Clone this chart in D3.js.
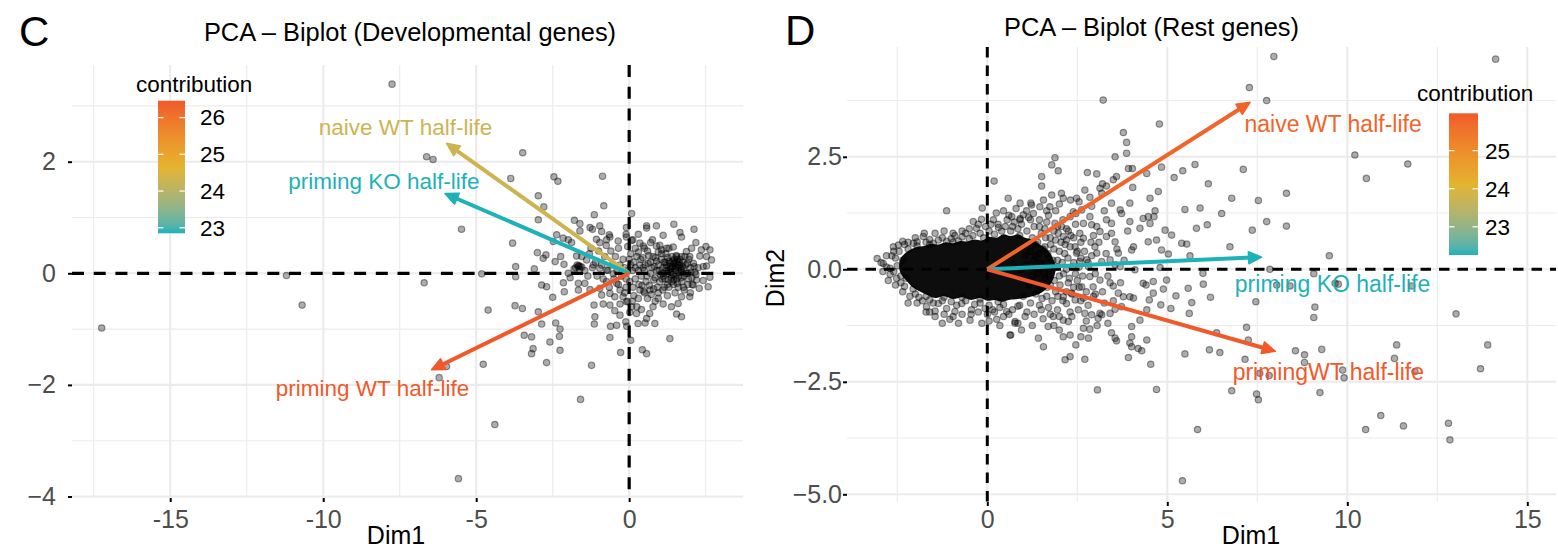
<!DOCTYPE html>
<html>
<head>
<meta charset="utf-8">
<script src="https://cdn.jsdelivr.net/npm/d3@7"></script>
<style>
  html, body { margin: 0; padding: 0; background: #fff; }
  svg { display: block; }
</style>
</head>
<body>
<svg id="fig" width="1558" height="551"></svg>
<script>
// ---------------------------------------------------------------
// Variables (arrows) and their contributions
// ---------------------------------------------------------------
const devVariables = ["naive WT half-life", "priming KO half-life", "priming WT half-life"];
const devLoadingDim1 = [-5.97, -6.02, -6.46];
const devLoadingDim2 = [2.33, 1.43, -1.73];
const devContribution = [24.3, 22.85, 26.46];

const restVariables = ["naive WT half-life", "priming KO half-life", "primingWT half-life"];
const restLoadingDim1 = [7.30, 7.62, 8.0];
const restLoadingDim2 = [3.71, 0.27, -1.82];
const restContribution = [25.8, 22.26, 25.98];

// Axis ticks and their labels
const devXTicks = [-15, -10, -5, 0];
const devXTickLabels = ["-15", "-10", "-5", "0"];
const devXMinor = [-17.5, -12.5, -7.5, -2.5, 2.5];
const devYTicks = [-4, -2, 0, 2];
const devYTickLabels = ["\u22124", "\u22122", "0", "2"];
const devYMinor = [-3, -1, 1, 3];
const devLegendTicks = [23, 24, 25, 26];

const restXTicks = [0, 5, 10, 15];
const restXTickLabels = ["0", "5", "10", "15"];
const restXMinor = [-2.5, 2.5, 7.5, 12.5];
const restYTicks = [-5, -2.5, 0, 2.5];
const restYTickLabels = ["\u22125.0", "\u22122.5", "0.0", "2.5"];
const restYMinor = [-3.75, -1.25, 1.25, 3.75];
const restLegendTicks = [23, 24, 25];

// ---------------------------------------------------------------
// Individuals (genes) on Dim1 / Dim2 - developmental genes
// ---------------------------------------------------------------
const devGenes = [
  [-17.24,-0.98],[-11.2,-0.04],[-10.69,-0.57],[-7.75,3.39],[-6.62,2.09],[-6.41,2.04],[-5.48,0.79],
  [-6.7,-0.17],[-4.82,-0.01],[-4.61,-0.66],[-4.77,-1.63],[-5.97,-1.67],[-6.21,-1.87],[-4.39,-2.71],
  [-5.58,-3.68],[-3.48,2.16],
  [-3.87,1.70],[-2.46,1.73],[-2.33,1.65],[-2.97,1.39],[-2.79,1.19],[-2.97,0.96],[-3.81,0.54],
  [-3.71,0.12],[-3.71,-0.06],[-3.0,0.37],[-2.81,0.27],[-2.86,-0.21],[-2.7,-0.24],
  [-0.87,1.74],[-0.83,1.21],[0.08,1.07],[-1.14,1.05],[-1.79,0.95],[-1.61,0.89],[-1.28,0.82],
  [-1.20,0.79],[-0.96,0.85],[-1.61,0.76],[-0.90,0.75],[-0.65,0.69],[-0.09,0.82],[0.57,0.85],
  [0.57,0.81],[0.89,0.85],[1.46,0.88],[1.66,0.73],[1.71,0.65],[2.12,0.79],[1.11,0.68],
  [-2.37,0.69],[-2.16,0.63],[-1.99,0.60],[-1.88,0.55],[-2.48,0.57],[-1.07,0.61],[-0.96,0.55],
  [-0.74,0.60],[-0.63,0.65],[-0.36,0.58],[-0.09,0.65],[0.08,0.59],[0.35,0.54],[0.46,0.49],
  [0.76,0.60],[0.89,0.49],[1.06,0.42],[1.22,0.45],[1.44,0.47],[1.71,0.30],[1.87,0.39],
  [2.04,0.45],[2.18,0.55],[2.36,0.42],[2.51,0.48],[2.64,0.42],[2.69,0.24],[2.53,0.30],
  [2.31,0.31],[2.42,0.12],[2.53,0.13],[2.64,-0.07],[2.42,-0.13],[2.58,-0.24],[2.29,-0.27],
  [2.09,-0.21],[1.98,-0.42],[1.71,-0.42],[1.60,-0.54],[1.71,-0.78],[1.55,-0.73],[1.38,-0.60],
  [1.11,-0.55],[0.78,-0.60],[0.67,-0.72],[0.57,-0.81],[0.84,-0.90],[0.52,-0.89],[0.29,-0.90],
  [0.24,-0.72],[0.08,-0.60],[-0.09,-0.51],[-0.11,-0.87],[-0.41,-0.93],[-0.61,-0.95],[-0.30,-0.75],
  [-0.47,-0.67],[-0.63,-0.57],[-0.85,-0.55],[-1.15,-0.57],[-1.12,-0.78],[-1.14,-0.91],[-0.63,-1.15],
  [-0.28,-1.42],[0.43,-1.37],[0.57,-1.44],[1.33,-1.17],[-1.23,-1.65],[-1.59,-2.26],[-2.59,-1.23],
  [-2.26,-1.38],[-3.14,-1.35],[-3.19,-1.44],[-2.70,-1.60],[-3.43,-1.11],[-3.19,-1.14],[-2.97,-0.69],
  [-2.86,-0.91],[-2.40,-0.89],[-2.26,-1.00],[-2.28,-1.13],[-3.73,-0.58],[-3.49,-0.63],[-2.50,-0.43],
  [-2.12,-0.33],[-2.15,-0.17],[-1.93,-0.08],[-1.66,-0.18],[-1.45,-0.18],[-1.99,0.00],[-1.66,0.12],
  [-1.55,0.11],[-3.10,0.08],[-2.72,0.33],[-2.24,0.30],[-2.13,0.16],[-2.42,0.21],[-1.72,0.31],
  [-1.39,0.24],[-1.17,0.15],[-0.96,0.09],[-0.74,0.06],[-0.52,-0.01],[-0.74,-0.15],[-0.96,-0.27],
  [-0.41,-0.18],[-0.30,-0.30],[-0.20,-0.42],[-0.47,-0.42],[-0.63,-0.36],[-0.90,-0.39],[-1.28,-0.29],
  [-1.66,-0.30],
  [0.05,0.35],[0.15,0.2],[0.1,0.05],[0.2,-0.1],[0.12,-0.25],[0.3,0.38],[0.35,0.15],[0.4,-0.05],
  [0.32,-0.2],[0.45,0.28],[0.5,0.05],[0.55,-0.15],[0.48,-0.32],[0.6,0.4],[0.62,0.18],[0.7,0.0],
  [0.66,-0.22],[0.72,-0.38],[0.78,0.3],[0.82,0.12],[0.85,-0.08],[0.8,-0.28],[0.9,0.22],[0.95,0.38],
  [0.98,0.05],[1.0,-0.15],[0.95,-0.35],[1.05,0.25],[1.1,0.1],[1.12,-0.05],[1.15,-0.25],[1.2,0.35],
  [1.22,0.15],[1.25,0.0],[1.28,-0.12],[1.3,0.22],[1.35,0.08],[1.38,-0.08],[1.4,0.3],[1.42,0.12],
  [1.45,-0.02],[1.5,0.18],[1.52,0.05],[1.55,-0.1],[1.58,0.25],[1.6,0.1],[1.62,-0.05],[1.65,0.15],
  [1.7,0.02],[1.72,-0.15],[1.75,0.2],[1.78,0.08],[1.8,-0.05],[1.85,0.15],[1.9,0.0],[1.92,-0.2],
  [1.95,0.25],[2.0,0.1],[2.05,-0.08],[2.1,0.18],[2.15,0.02],[2.2,-0.12],[2.25,0.1],[1.18,0.2],
  [1.33,0.18],[1.48,0.25],[1.63,0.2],[1.08,-0.1],[1.25,-0.2],[1.45,-0.2],[1.6,-0.25],[1.35,0.02],
  [1.52,0.12],[1.68,0.08],[1.4,-0.15],[1.55,0.3],[0.6,-0.45],[0.85,-0.5],[0.3,-0.45],[0.2,0.45],
  [0.5,0.45],[0.15,-0.4],[0.02,-0.15],[0.05,0.15],[-0.05,0.05],[-0.1,-0.1],[-0.15,0.1],[-0.2,0.25],
  [-0.25,-0.05],[-0.3,0.15],[-0.35,-0.2],[-0.4,0.05],[-0.45,0.3],[-0.5,-0.1],[-0.55,0.15],[-0.6,0.4],
  [-0.65,-0.25],[-0.7,0.05],[-0.8,0.3],[-0.85,-0.1],[-0.9,0.15],[-1.0,0.4],[-1.05,-0.05],[-1.1,0.2],
  [-1.2,0.1],[-1.3,0.35],[-1.35,-0.05],[-1.45,0.05],[-1.55,0.3],[-1.6,0.12],[-1.7,0.15],[-1.75,0.1],
  [-1.8,0.08],[-1.62,0.07],[-1.65,0.14],[-1.25,0.45],[-0.75,0.5],[-0.35,0.45],[-0.05,0.48],[0.25,-0.6],
  [-0.15,-0.35],[-0.05,-0.5],[0.4,-0.65],[-0.3,-0.55],[1.0,0.5],[1.3,0.45],[0.7,0.55],[0.95,-0.45],
  [1.25,-0.4],[1.5,-0.35],[1.8,-0.3],[2.0,-0.35],[0.12,0.6],[-0.1,0.7],[0.3,0.7],[0.02,-0.7],
  [-0.08,-0.95],[0.05,-1.2],
  [0.3,0.05],[0.38,0.25],[0.42,-0.22],[0.52,0.15],[0.58,-0.05],[0.64,0.32],[0.68,-0.3],[0.74,0.1],
  [0.8,-0.12],[0.86,0.28],[0.92,-0.25],[0.96,0.15],[1.02,-0.02],[1.06,0.35],[1.1,-0.3],[1.14,0.2],
  [1.18,-0.1],[1.22,0.05],[1.26,0.28],[1.3,-0.25],[1.34,0.12],[1.38,-0.02],[1.42,0.22],[1.46,-0.12],
  [1.5,0.08],[1.54,0.32],[1.58,-0.18],[1.62,0.02],[1.66,0.25],[1.7,-0.08],[1.74,0.12],[1.78,-0.25],
  [1.82,0.3],[1.86,0.0],[1.9,0.18],[1.94,-0.1],[1.98,0.3],[2.02,0.02],[2.06,-0.2],[2.12,0.12],
  [2.18,-0.02],[1.2,0.1],[1.4,0.1],[1.6,0.15],[1.3,0.05],[1.5,-0.05],[1.7,0.05],[1.1,0.0],
  [1.45,0.18],[1.55,0.2],[0.9,0.05],[0.7,0.2],[0.5,-0.35],[0.25,0.3],[0.0,0.25],[-0.1,-0.25],
  [0.1,-0.5],[0.35,-0.3],[0.45,0.1],[0.2,0.1]
];

// ---------------------------------------------------------------
// Individuals - rest genes. The saturated centre of the cloud is
// given as an outline; the scattered genes are listed point by point.
// ---------------------------------------------------------------
const restCoreOutline = [
  [-2.45,0.05],[-2.4,0.25],[-2.25,0.38],[-2.1,0.45],[-1.95,0.5],[-1.75,0.52],[-1.55,0.57],
  [-1.35,0.55],[-1.15,0.6],[-0.95,0.58],[-0.75,0.63],[-0.55,0.62],[-0.35,0.66],[-0.15,0.64],
  [0.05,0.72],[0.25,0.7],[0.45,0.78],[0.65,0.74],[0.85,0.78],[1.05,0.7],[1.25,0.66],[1.45,0.55],
  [1.65,0.45],[1.8,0.28],[1.9,0.05],[1.85,-0.18],[1.7,-0.38],[1.5,-0.52],[1.25,-0.6],[1.05,-0.64],
  [0.85,-0.66],[0.6,-0.68],[0.4,-0.72],[0.2,-0.68],[0.0,-0.7],[-0.2,-0.64],[-0.45,-0.68],
  [-0.7,-0.62],[-0.95,-0.66],[-1.2,-0.6],[-1.45,-0.64],[-1.7,-0.56],[-1.9,-0.48],[-2.1,-0.38],
  [-2.25,-0.25],[-2.4,-0.1]
];

const restGenes = [
  // left tail
  [-3.06,0.24],[-2.95,0.15],[-2.89,0.13],[-2.8,0.3],[-2.70,0.02],[-2.70,-0.11],[-2.61,0.50],
  [-2.52,-0.20],[-2.47,0.54],[-2.6,-0.05],[-2.55,0.25],[-2.45,0.4],[-2.4,-0.3],[-2.3,0.55],
  [-2.5,0.08],[-2.65,0.3],[-2.3,-0.38],[-2.35,0.2],[-2.4,-0.15],[-2.25,-0.2],[-2.2,0.45],
  // upper edge
  [-2.2,0.6],[-2.05,0.58],[-1.95,0.61],[-1.78,0.73],[-1.7,0.6],[-1.6,0.66],[-1.5,0.58],[-1.36,0.65],
  [-1.25,0.7],[-1.13,0.62],[-1.0,0.68],[-0.9,0.75],[-0.8,0.63],[-0.7,0.72],[-0.6,0.8],[-0.5,0.68],
  [-0.4,0.75],[-0.30,0.91],[-0.2,0.8],[-0.1,0.7],[-0.16,1.11],[-0.39,1.06],[-0.14,1.36],[-1.13,1.30],
  [0.05,0.85],[0.17,1.10],[0.31,0.93],[0.19,1.96],[-1.95,0.52],[-1.6,0.55],[-0.95,0.6],
  // lower edge
  [-2.06,-0.44],[-2.0,-0.55],[-1.9,-0.62],[-1.8,-0.7],[-1.69,-0.83],[-1.6,-0.68],[-1.5,-0.75],
  [-1.45,-0.93],[-1.36,-0.76],[-1.25,-0.7],[-1.13,-0.87],[-1.04,-1.11],[-1.0,-0.72],[-0.90,-0.94],
  [-0.85,-0.8],[-0.71,-0.76],[-0.6,-0.7],[-0.48,-1.13],[-0.44,-0.90],[-0.35,-0.78],[-0.2,-0.75],
  [-0.06,-0.87],[0.26,-1.11],[0.65,-1.46],[0.77,-1.16],[-1.7,-0.6],[-1.2,-0.62],[-0.7,-0.62],
  [-0.2,-0.66],[0.3,-0.72],
  // outer fringe of the centre
  [1.2,1.1],[0.95,1.0],[0.7,0.95],[0.55,1.1],[0.25,1.25],[0.1,1.0],[-0.05,0.95],[-0.25,1.0],
  [-0.5,0.9],[-0.7,0.85],[-0.95,0.8],[-1.2,0.85],[-1.45,0.8],[-1.75,0.8],[-2.0,0.7],[-2.35,0.62],
  [-2.6,0.4],[-2.8,0.05],[-2.9,-0.05],[-2.75,-0.25],[-2.55,-0.35],[-2.35,-0.5],[-2.15,-0.6],
  [-1.95,-0.75],[-1.7,-0.95],[-1.45,-1.05],[-1.2,-1.0],[-0.95,-1.05],[-0.7,-1.0],[-0.45,-1.0],
  [-0.25,-0.95],[0.0,-1.0],[0.2,-0.95],[0.45,-1.05],[0.6,-1.0],[-1.25,-1.2],[-0.8,-1.2],
  [0.05,-1.15],[-2.2,-0.75],[-1.6,-0.95],[-0.15,-1.2],[0.35,-1.25],
  // right of the centre
  [0.5,0.95],[0.6,1.2],[0.75,1.05],[0.85,0.9],[0.45,1.3],[0.8,1.35],[1.15,1.15],[1.3,0.95],
  [1.45,1.1],[1.7,1.2],[1.9,1.3],[2.1,1.1],[0.9,0.75],[1.1,0.85],[1.25,0.7],[1.5,0.8],[1.75,0.7],
  [1.6,0.9],[1.85,0.85],[1.2,0.4],[1.35,0.55],[1.45,0.35],[1.6,0.5],[1.7,0.25],[1.85,0.45],
  [1.95,0.2],[2.05,0.6],[2.15,0.35],[1.3,0.2],[1.55,0.1],[1.8,0.0],[2.2,0.0],[2.4,0.15],[1.4,-0.1],
  [1.6,-0.2],[2.0,-0.15],[2.45,-0.1],[1.25,-0.15],[1.5,-0.4],[1.75,-0.35],[2.25,-0.3],[1.15,-0.35],
  [1.35,-0.55],[1.65,-0.6],[1.9,-0.5],[2.35,-0.55],[1.0,-0.6],[1.2,-0.75],[1.45,-0.8],[1.7,-0.85],
  [1.95,-0.9],[0.9,-0.8],[1.1,-0.95],[2.1,-0.7],[2.55,-0.4],[2.6,0.25],[2.5,0.4],[0.7,-0.9],
  [0.85,-0.82],[0.45,-0.78],[0.54,-0.94],[0.35,-0.85],[0.15,-0.9],[0.05,-0.8],[1.05,0.3],
  [0.95,0.0],[1.1,0.1],[0.3,1.0],[0.2,0.78],[0.4,0.85],[0.65,0.85],
  [1.35,0.3],[1.4,0.6],[1.42,-0.45],[1.48,0.15],[1.52,-0.65],[1.55,0.45],[1.58,-0.05],[1.62,0.7],
  [1.66,-0.4],[1.68,0.35],[1.72,-0.15],[1.76,0.55],[1.8,-0.7],[1.82,0.2],[1.86,-0.25],[1.9,0.65],
  [1.92,0.05],[1.96,-0.6],[2.0,0.4],[2.02,-0.35],[2.08,0.15],[2.12,-0.1],[2.16,0.55],[2.2,-0.5],
  [2.24,0.25],[2.28,-0.2],[2.32,0.75],[2.36,0.05],[2.4,-0.4],[2.44,0.5],[2.5,-0.25],[2.55,0.05],
  [2.6,0.6],[2.65,-0.15],[2.7,0.4],[2.75,-0.5],[2.8,0.15],[2.88,0.6],[2.95,-0.6],[1.45,0.95],
  [1.65,1.05],[1.95,0.95],[2.25,0.85],[2.45,1.0],[1.5,-0.9],[1.75,-1.0],[2.0,-1.05],[2.3,-0.95],
  [1.3,-1.0],[1.05,-1.05],[0.85,-1.2],
  [2.9,0.3],[3.0,-0.1],[3.1,0.6],[3.2,-0.5],[3.3,0.35],[3.35,-0.15],[3.45,0.8],[3.5,-0.7],
  [3.6,0.45],[3.7,-0.3],[3.8,0.2],[3.9,0.85],[2.2,0.9],[2.4,0.7],[2.6,-0.7],[2.8,-0.8],[2.95,0.75],
  [3.25,1.3],[2.55,1.5],[2.0,1.45],[1.65,1.3],[2.9,1.4],[3.0,-0.55],[3.25,-0.75],[2.35,-1.05],
  [1.85,-1.25],[1.55,-1.1],[2.75,-1.15],[3.05,-1.25],[3.35,-1.2],[1.25,-1.25],[0.95,-1.35],
  [2.0,-1.35],[2.6,-1.5],
  // spread towards positive Dim1
  [7.28,4.04],[7.76,3.75],[3.22,3.76],[4.78,3.23],[3.78,3.04],[3.87,2.82],[3.87,2.58],[3.55,2.50],
  [1.88,2.48],[1.79,2.32],[1.97,2.19],[3.92,2.24],[4.03,2.24],[2.78,2.15],[3.04,2.12],[4.43,2.13],
  [4.84,2.27],[5.43,2.19],[5.77,2.33],[5.19,2.04],[7.11,2.22],[6.14,1.90],[1.51,2.06],[1.51,1.85],
  [3.50,1.99],[3.31,1.85],[3.59,2.06],[4.04,1.82],[3.20,1.90],[4.75,1.73],[4.52,1.58],[6.79,1.58],
  [7.53,1.53],[5.91,1.36],[5.49,1.33],[6.51,1.24],[4.66,1.30],[4.63,1.17],[4.33,1.13],[3.96,1.06],
  [4.24,0.91],[4.94,0.87],[5.12,0.76],[4.70,0.65],[4.47,0.61],[5.40,0.58],[5.54,0.56],[5.81,0.91],
  [6.11,0.99],[7.36,0.87],[7.76,1.06],[6.74,0.50],[5.03,0.34],[5.63,0.30],[4.01,0.43],[4.06,0.50],
  [3.64,0.36],[3.55,0.61],[3.31,0.73],[3.13,0.84],[2.90,0.99],[3.04,0.95],[2.67,1.02],[2.46,1.24],
  [2.62,1.32],[2.85,1.17],[2.31,1.54],[2.48,1.58],[2.06,1.69],[2.11,1.58],[2.71,1.76],[2.85,1.60],
  [3.13,1.80],[3.18,1.69],[3.69,1.32],[3.73,1.24],[3.45,1.47],[3.96,1.47],[4.47,1.17],[6.00,-0.33],
  [6.20,-0.62],[5.58,-0.42],[5.24,-0.59],[5.10,-0.87],[4.82,-0.79],[5.61,-0.98],[5.68,-0.74],
  [4.50,-0.68],[4.61,-0.53],[4.33,-0.31],[4.41,-0.35],[4.61,-0.27],[4.10,-0.01],[4.80,0.04],
  [4.89,-0.44],[4.24,-1.13],[4.43,-1.57],[4.01,-1.27],[3.96,-1.64],[4.01,-1.72],[4.19,-1.76],
  [4.29,-1.81],[3.92,-1.96],[4.54,-2.11],[4.70,-2.67],[5.49,-1.88],[6.17,-1.79],[6.46,-1.85],
  [7.16,-2.0],[7.20,-1.29],[7.25,-1.57],[7.46,-0.72],[6.79,-2.70],[7.48,-2.77],[7.53,-2.90],
  [3.06,-2.68],[3.45,-1.41],[3.55,-1.53],[3.59,-1.59],[3.18,-1.01],[3.08,-1.09],[2.67,-1.31],
  [2.85,-1.33],[2.81,-1.53],[2.46,-1.68],[2.30,-1.94],[2.16,-2.01],[2.71,-2.00],[2.11,-1.50],
  [2.30,-1.46],[1.69,-1.27],[1.42,-1.53],[1.56,-1.72],[0.63,-1.46],[0.77,-1.20],[1.83,-1.05],
  [2.11,-1.13],[2.25,-1.16],[2.53,-0.90],[2.71,-0.98],[2.90,-1.01],[3.13,-0.98],[3.41,-0.98],
  [3.55,-0.89],[3.64,-0.53],[3.78,-0.61],[3.41,-0.30],[3.50,-0.37],[3.13,-0.24],[2.85,-0.16],
  [2.94,-0.39],[2.62,-0.39],[2.67,-0.64],[2.34,-0.53],[2.44,-0.68],[2.11,-0.61],[2.20,-0.76],
  [3.96,-0.61],[4.06,-0.64],[4.43,-0.90],[4.01,-1.50],[3.73,-0.83],[3.55,0.10],[3.69,0.06],
  [3.18,0.17],[3.41,0.21],[2.99,0.50],[3.04,0.36],[2.76,0.21],[2.81,0.06],[2.48,0.36],[2.57,0.17],
  [2.20,0.65],[2.30,0.50],[1.97,0.80],[2.11,0.73],[1.74,1.39],[1.79,1.65],[1.46,1.39],[1.56,1.54],
  [1.23,1.43],[1.28,1.24],[1.0,1.21],[0.91,1.10],[0.58,1.58],[1.88,1.02],[2.06,0.95],[2.30,1.17],
  [2.39,1.28],[2.57,0.80],[2.67,0.69],[3.31,1.10],[3.45,1.02],[4.52,1.02],[4.84,0.43],[4.98,-0.24],
  [6.37,-1.41],[7.57,-2.31],[7.83,-2.36],[5.99,-0.09],[0.91,1.47],[1.21,1.47],[1.09,1.30],
  [0.91,1.13],[0.68,1.17],
  // far right
  [7.96,4.73],[14.12,4.67],[10.21,2.54],[11.68,2.34],[10.53,2.02],[8.31,1.69],[8.31,0.96],
  [9.50,0.30],[7.85,0.0],[9.07,-0.10],[8.04,-0.35],[8.41,-0.37],[9.66,-0.31],[9.75,-0.33],
  [11.79,-0.37],[9.10,-0.84],[9.07,-1.07],[13.02,-0.99],[8.56,-1.81],[8.81,-1.90],[8.81,-2.07],
  [9.29,-1.78],[9.87,-2.24],[9.91,-2.41],[9.24,-2.74],[11.37,-1.68],[11.31,-1.98],[11.88,-2.27],
  [13.90,-1.68],[13.70,-2.21],[10.93,-3.25],[10.51,-3.56],[11.56,-3.48],[12.81,-3.42],[12.85,-3.79],
  [5.84,-3.56],[5.42,-4.70]
];

// ---------------------------------------------------------------
// Layout
// ---------------------------------------------------------------
const FONT = '"Liberation Sans", Arial, Helvetica, sans-serif';
const gradientColors = ["#1DB2B8", "#E4B42E", "#F2592A"];
const svg = d3.select("#fig");
const defs = svg.append("defs");

const panels = [
  {
    id: "dev",
    letter: "C", letterPos: [19, 46],
    title: "PCA \u2013 Biplot (Developmental genes)", titlePos: [410, 41],
    frame: { left: 72, right: 743, top: 65, bottom: 498 },
    xDomain: [-18.21, 3.72], yDomain: [-4.027, 3.733],
    xTicks: devXTicks, xTickLabels: devXTickLabels, xMinor: devXMinor,
    yTicks: devYTicks, yTickLabels: devYTickLabels, yMinor: devYMinor,
    xPad: 8.2, yPad: 12, dash: "12,9.7", dashWidth: 3.2,
    genes: devGenes, core: null,
    variables: devVariables, dim1: devLoadingDim1, dim2: devLoadingDim2, contrib: devContribution,
    labelOffsets: [[-41, -8], [-61, -5], [-59, 26]], labelSize: 22.5,
    xTitlePos: [396, 544], yTitlePos: null,
    legend: { titleX: 136, titleY: 92, barX: 158, barW: 27, barTop: 100.7, barBottom: 233.3, labelX: 200, ticks: devLegendTicks }
  },
  {
    id: "rest",
    letter: "D", letterPos: [785, 45],
    title: "PCA \u2013 Biplot (Rest genes)", titlePos: [1151.5, 36],
    frame: { left: 847, right: 1556, top: 47, bottom: 502 },
    xDomain: [-3.897, 15.797], yDomain: [-5.171, 4.94],
    xTicks: restXTicks, xTickLabels: restXTickLabels, xMinor: restXMinor,
    yTicks: restYTicks, yTickLabels: restYTickLabels, yMinor: restYMinor,
    xPad: 4.2, yPad: 1, dash: "10.5,8", dashWidth: 3,
    genes: restGenes, core: restCoreOutline,
    variables: restVariables, dim1: restLoadingDim1, dim2: restLoadingDim2, contrib: restContribution,
    labelOffsets: [[83, 30], [71, 35], [53, 29]], labelSize: 23,
    xTitlePos: [1251, 544], yTitlePos: [784, 278],
    legend: { titleX: 1417, titleY: 101, barX: 1449, barW: 29, barTop: 113.3, barBottom: 255, labelX: 1485, ticks: restLegendTicks }
  }
];

function drawPanel(p) {
  const f = p.frame;
  const g = svg.append("g").attr("class", "panel-" + p.id);
  const x = d3.scaleLinear().domain(p.xDomain).range([f.left, f.right]);
  const y = d3.scaleLinear().domain(p.yDomain).range([f.bottom, f.top]);

  // grid
  const grid = g.append("g").attr("stroke", "#ebebeb");
  grid.selectAll("line.xminor").data(p.xMinor).join("line").attr("class", "xminor")
    .attr("x1", d => x(d)).attr("x2", d => x(d)).attr("y1", f.top).attr("y2", f.bottom)
    .attr("stroke-width", 1.1);
  grid.selectAll("line.yminor").data(p.yMinor).join("line").attr("class", "yminor")
    .attr("y1", d => y(d)).attr("y2", d => y(d)).attr("x1", f.left).attr("x2", f.right)
    .attr("stroke-width", 1.1);
  grid.selectAll("line.xmajor").data(p.xTicks).join("line").attr("class", "xmajor")
    .attr("x1", d => x(d)).attr("x2", d => x(d)).attr("y1", f.top).attr("y2", f.bottom)
    .attr("stroke-width", 2.1);
  grid.selectAll("line.ymajor").data(p.yTicks).join("line").attr("class", "ymajor")
    .attr("y1", d => y(d)).attr("y2", d => y(d)).attr("x1", f.left).attr("x2", f.right)
    .attr("stroke-width", 2.1);

  // axes
  const xAxis = g.append("g").attr("transform", `translate(0,${f.bottom})`)
    .call(d3.axisBottom(x).tickValues(p.xTicks).tickFormat((d, i) => p.xTickLabels[i])
      .tickSize(4).tickPadding(p.xPad));
  const yAxis = g.append("g").attr("transform", `translate(${f.left},0)`)
    .call(d3.axisLeft(y).tickValues(p.yTicks).tickFormat((d, i) => p.yTickLabels[i])
      .tickSize(4).tickPadding(p.yPad));
  [xAxis, yAxis].forEach(a => {
    a.select(".domain").remove();
    a.selectAll(".tick line").attr("stroke", "#000").attr("stroke-width", 2);
    a.selectAll(".tick text").attr("fill", "#4d4d4d").attr("font-size", 25).attr("font-family", FONT);
  });

  // reference lines through the origin
  g.append("line").attr("x1", f.left).attr("x2", f.right).attr("y1", y(0)).attr("y2", y(0))
    .attr("stroke", "#000").attr("stroke-width", p.dashWidth).attr("stroke-dasharray", p.dash);
  g.append("line").attr("x1", x(0)).attr("x2", x(0)).attr("y1", f.top).attr("y2", f.bottom)
    .attr("stroke", "#000").attr("stroke-width", p.dashWidth).attr("stroke-dasharray", p.dash);

  // saturated centre of the cloud
  if (p.core) {
    g.append("path").datum(p.core)
      .attr("d", d3.line().x(d => x(d[0])).y(d => y(d[1])).curve(d3.curveCatmullRomClosed))
      .attr("fill", "#000").attr("opacity", 0.95);
  }

  // genes
  g.append("g").selectAll("circle").data(p.genes).join("circle")
    .attr("cx", d => x(d[0])).attr("cy", d => y(d[1])).attr("r", 3.2)
    .attr("fill", "#000").attr("fill-opacity", 0.32)
    .attr("stroke", "#000").attr("stroke-opacity", 0.4).attr("stroke-width", 1.2);

  // contribution colour scale
  const ext = d3.extent(p.contrib);
  const color = d3.scaleLinear().domain([ext[0], (ext[0] + ext[1]) / 2, ext[1]])
    .range(gradientColors).interpolate(d3.interpolateLab);

  // variable arrows
  const arrows = g.append("g");
  p.variables.forEach((name, i) => {
    const x0 = x(0), y0 = y(0), x1 = x(p.dim1[i]), y1 = y(p.dim2[i]);
    const a = Math.atan2(y1 - y0, x1 - x0);
    const c = color(p.contrib[i]);
    const headLen = 13, headHalf = 6;
    const ux = Math.cos(a), uy = Math.sin(a);
    arrows.append("line")
      .attr("x1", x0).attr("y1", y0)
      .attr("x2", x1 - ux * (headLen - 3)).attr("y2", y1 - uy * (headLen - 3))
      .attr("stroke", c).attr("stroke-width", 4);
    const bx = x1 - ux * headLen, by = y1 - uy * headLen;
    arrows.append("path")
      .attr("d", `M${x1},${y1}L${bx - uy * headHalf},${by + ux * headHalf}L${bx + uy * headHalf},${by - ux * headHalf}Z`)
      .attr("fill", c).attr("stroke", c).attr("stroke-width", 1.5).attr("stroke-linejoin", "round");
    arrows.append("text")
      .attr("x", x1 + p.labelOffsets[i][0]).attr("y", y1 + p.labelOffsets[i][1])
      .attr("text-anchor", "middle").attr("font-family", FONT).attr("font-size", p.labelSize)
      .attr("fill", c).text(name);
  });

  // colour bar legend
  const L = p.legend;
  const gradId = "grad-" + p.id;
  const grad = defs.append("linearGradient").attr("id", gradId)
    .attr("x1", 0).attr("y1", 1).attr("x2", 0).attr("y2", 0);
  d3.range(0, 21).forEach(k => {
    const t = k / 20;
    grad.append("stop").attr("offset", t).attr("stop-color", color(ext[0] + t * (ext[1] - ext[0])));
  });
  const lg = g.append("g");
  lg.append("text").attr("x", L.titleX).attr("y", L.titleY)
    .attr("font-family", FONT).attr("font-size", 22.5).attr("fill", "#000").text("contribution");
  lg.append("rect").attr("x", L.barX).attr("y", L.barTop).attr("width", L.barW)
    .attr("height", L.barBottom - L.barTop).attr("fill", `url(#${gradId})`);
  const ly = d3.scaleLinear().domain(ext).range([L.barBottom, L.barTop]);
  L.ticks.forEach(t => {
    const ty = ly(t);
    lg.append("line").attr("x1", L.barX).attr("x2", L.barX + 5.5).attr("y1", ty).attr("y2", ty)
      .attr("stroke", "#fff").attr("stroke-width", 1.2);
    lg.append("line").attr("x1", L.barX + L.barW - 5.5).attr("x2", L.barX + L.barW).attr("y1", ty).attr("y2", ty)
      .attr("stroke", "#fff").attr("stroke-width", 1.2);
    lg.append("text").attr("x", L.labelX).attr("y", ty).attr("dy", "0.35em")
      .attr("font-family", FONT).attr("font-size", 22.5).attr("fill", "#000").text(t);
  });

  // titles
  svg.append("text").attr("x", p.letterPos[0]).attr("y", p.letterPos[1])
    .attr("font-family", FONT).attr("font-size", 42).attr("fill", "#000").text(p.letter);
  svg.append("text").attr("x", p.titlePos[0]).attr("y", p.titlePos[1]).attr("text-anchor", "middle")
    .attr("font-family", FONT).attr("font-size", 25.4).attr("fill", "#000").text(p.title);
  svg.append("text").attr("x", p.xTitlePos[0]).attr("y", p.xTitlePos[1]).attr("text-anchor", "middle")
    .attr("font-family", FONT).attr("font-size", 25).attr("fill", "#000").text("Dim1");
  if (p.yTitlePos) {
    svg.append("text")
      .attr("transform", `translate(${p.yTitlePos[0]},${p.yTitlePos[1]}) rotate(-90)`)
      .attr("text-anchor", "middle")
      .attr("font-family", FONT).attr("font-size", 25).attr("fill", "#000").text("Dim2");
  }
}

panels.forEach(drawPanel);
</script>
</body>
</html>
